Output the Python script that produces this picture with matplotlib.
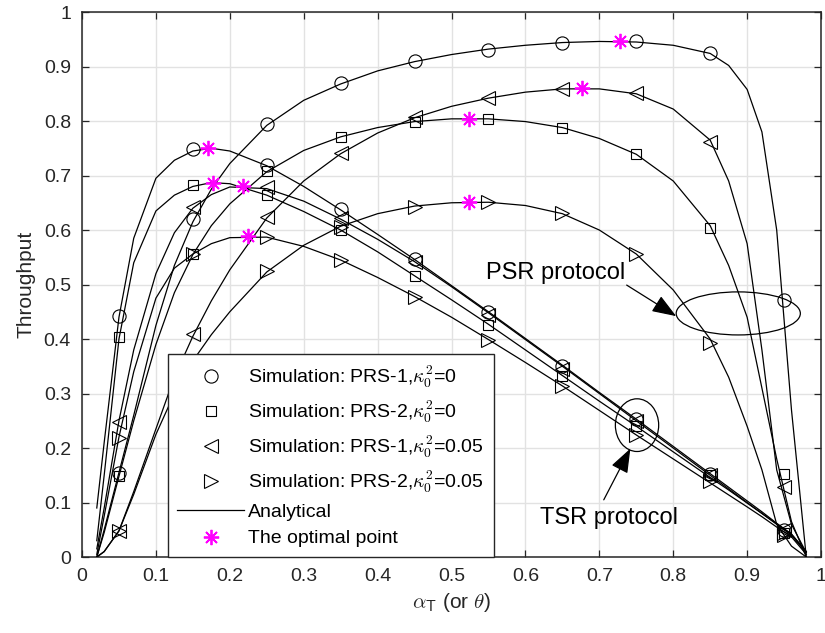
import matplotlib
matplotlib.use('Agg')
import matplotlib.pyplot as plt
from matplotlib.lines import Line2D
from matplotlib.patches import Ellipse

plt.rcParams['font.family'] = ['Liberation Sans', 'DejaVu Sans']
plt.rcParams['mathtext.fontset'] = 'cm'

# ---------------- simulation points (alpha = 0.05 ... 0.95) ----------------
x_sim = [0.05, 0.15, 0.25, 0.35, 0.45, 0.55, 0.65, 0.75, 0.85, 0.95]

# TSR protocol
tsr_prs1_k0 = [0.443, 0.748, 0.719, 0.638, 0.546, 0.450, 0.351, 0.253, 0.152, 0.050]
tsr_prs2_k0 = [0.404, 0.682, 0.664, 0.600, 0.516, 0.426, 0.332, 0.240, 0.150, 0.045]
tsr_prs1_k5 = [0.248, 0.643, 0.679, 0.622, 0.542, 0.445, 0.345, 0.250, 0.150, 0.050]
tsr_prs2_k5 = [0.219, 0.556, 0.587, 0.545, 0.478, 0.399, 0.314, 0.224, 0.140, 0.040]

# PSR protocol
psr_prs1_k0 = [0.155, 0.620, 0.794, 0.869, 0.910, 0.931, 0.944, 0.946, 0.925, 0.472]
psr_prs2_k0 = [0.148, 0.556, 0.709, 0.771, 0.799, 0.804, 0.788, 0.739, 0.604, 0.153]
psr_prs1_k5 = [0.048, 0.409, 0.624, 0.741, 0.807, 0.843, 0.858, 0.852, 0.762, 0.129]
psr_prs2_k5 = [0.048, 0.355, 0.525, 0.605, 0.643, 0.652, 0.631, 0.556, 0.392, 0.044]

# ---------------- analytical curves ----------------
x_ana = [0.02, 0.03, 0.05, 0.07, 0.10, 0.125, 0.15, 0.175, 0.20, 0.25, 0.30, 0.35,
         0.40, 0.45, 0.50, 0.55, 0.60, 0.65, 0.70, 0.75, 0.80, 0.85, 0.875, 0.90,
         0.92, 0.94, 0.96, 0.98]

ana_tsr_prs1_k0 = [0.090, 0.210, 0.440, 0.585, 0.695, 0.728, 0.745, 0.750, 0.745, 0.718,
                   0.680, 0.637, 0.592, 0.546, 0.498, 0.450, 0.401, 0.352, 0.302, 0.253,
                   0.203, 0.153, 0.128, 0.103, 0.083, 0.062, 0.042, 0.010]
ana_tsr_prs2_k0 = [0.030, 0.150, 0.400, 0.540, 0.635, 0.664, 0.680, 0.687, 0.685, 0.664,
                   0.634, 0.600, 0.560, 0.516, 0.472, 0.427, 0.380, 0.333, 0.286, 0.240,
                   0.193, 0.146, 0.123, 0.099, 0.080, 0.061, 0.042, 0.010]
ana_tsr_prs1_k5 = [0.015, 0.090, 0.250, 0.380, 0.520, 0.595, 0.640, 0.665, 0.679, 0.676,
                   0.653, 0.620, 0.583, 0.542, 0.496, 0.448, 0.399, 0.350, 0.300, 0.250,
                   0.200, 0.150, 0.125, 0.100, 0.080, 0.060, 0.040, 0.008]
ana_tsr_prs2_k5 = [0.005, 0.075, 0.220, 0.340, 0.475, 0.530, 0.556, 0.575, 0.586, 0.587,
                   0.570, 0.545, 0.513, 0.478, 0.440, 0.399, 0.357, 0.314, 0.269, 0.224,
                   0.180, 0.136, 0.114, 0.092, 0.074, 0.055, 0.037, 0.005]

ana_psr_prs1_k0 = [0.000, 0.050, 0.155, 0.260, 0.425, 0.535, 0.615, 0.675, 0.722, 0.792,
                   0.838, 0.868, 0.892, 0.909, 0.922, 0.932, 0.939, 0.944, 0.946, 0.945,
                   0.939, 0.924, 0.902, 0.858, 0.780, 0.600, 0.270, 0.000]
ana_psr_prs2_k0 = [0.000, 0.045, 0.148, 0.250, 0.390, 0.485, 0.555, 0.608, 0.648, 0.707,
                   0.746, 0.771, 0.788, 0.799, 0.804, 0.804, 0.799, 0.788, 0.768, 0.739,
                   0.690, 0.608, 0.535, 0.440, 0.310, 0.180, 0.065, 0.000]
ana_psr_prs1_k5 = [0.000, 0.010, 0.048, 0.120, 0.235, 0.330, 0.405, 0.470, 0.527, 0.622,
                   0.690, 0.740, 0.778, 0.806, 0.827, 0.842, 0.853, 0.859, 0.859, 0.850,
                   0.822, 0.765, 0.690, 0.575, 0.380, 0.160, 0.060, 0.008]
ana_psr_prs2_k5 = [0.000, 0.010, 0.048, 0.115, 0.225, 0.300, 0.360, 0.408, 0.450, 0.523,
                   0.572, 0.607, 0.630, 0.644, 0.650, 0.651, 0.645, 0.630, 0.600, 0.556,
                   0.490, 0.400, 0.330, 0.240, 0.160, 0.060, 0.020, 0.000]

# optimal operating points
opt_x = [0.170, 0.177, 0.218, 0.224, 0.728, 0.524, 0.677, 0.523]
opt_y = [0.750, 0.687, 0.681, 0.589, 0.946, 0.804, 0.860, 0.651]

labels = [r'Simulation: PRS-1,$\kappa_0^2$=0',
          r'Simulation: PRS-2,$\kappa_0^2$=0',
          r'Simulation: PRS-1,$\kappa_0^2$=0.05',
          r'Simulation: PRS-2,$\kappa_0^2$=0.05']

markers = ['o', 's', '<', '>']
msizes = [9.5, 7.5, 9.5, 9.5]
tsr_sim = [tsr_prs1_k0, tsr_prs2_k0, tsr_prs1_k5, tsr_prs2_k5]
psr_sim = [psr_prs1_k0, psr_prs2_k0, psr_prs1_k5, psr_prs2_k5]
ana_all = [ana_tsr_prs1_k0, ana_tsr_prs2_k0, ana_tsr_prs1_k5, ana_tsr_prs2_k5,
           ana_psr_prs1_k0, ana_psr_prs2_k0, ana_psr_prs1_k5, ana_psr_prs2_k5]

axcol = '#262626'
star = (8, 2, 0)

fig = plt.figure(figsize=(8.25, 6.33), dpi=100)
ax = fig.add_axes([0.0994, 0.120, 0.8958, 0.861])

for ya in ana_all:
    ax.plot(x_ana, ya, color='k', lw=0.9, zorder=3)

for m, ms, yt, yp in zip(markers, msizes, tsr_sim, psr_sim):
    ax.plot(x_sim, yt, ls='none', marker=m, ms=ms, mfc='none', mec='k', mew=0.8, zorder=4)
    ax.plot(x_sim, yp, ls='none', marker=m, ms=ms, mfc='none', mec='k', mew=0.8, zorder=4)

ax.plot(opt_x, opt_y, ls='none', marker=star, ms=11, mec='#ff00ff', mew=1.3, zorder=5)

# protocol annotations
arrow = dict(arrowstyle='-|>,head_length=0.75,head_width=0.28', color='k',
             lw=0.9, shrinkA=0, shrinkB=0, mutation_scale=20)

ax.add_patch(Ellipse((0.888, 0.447), 0.168, 0.079, fill=False, ec='k', lw=0.9, zorder=5))
ax.text(0.547, 0.521, 'PSR protocol', fontsize=17, ha='left', va='center', zorder=6)
ax.annotate('', xy=(0.804, 0.442), xytext=(0.737, 0.499), arrowprops=arrow, zorder=6)

ax.add_patch(Ellipse((0.751, 0.242), 0.0586, 0.0967, fill=False, ec='k', lw=0.9, zorder=5))
ax.text(0.620, 0.072, 'TSR protocol', fontsize=17, ha='left', va='center', zorder=6)
ax.annotate('', xy=(0.742, 0.199), xytext=(0.706, 0.105), arrowprops=arrow, zorder=6)

# axes styling
ticks = [i / 10 for i in range(11)]
ticklabels = ['0', '0.1', '0.2', '0.3', '0.4', '0.5', '0.6', '0.7', '0.8', '0.9', '1']
ax.set_xlim(0, 1)
ax.set_ylim(0, 1)
ax.set_xticks(ticks)
ax.set_yticks(ticks)
ax.set_xticklabels(ticklabels)
ax.set_yticklabels(ticklabels)
ax.grid(True, color='#e2e2e2', lw=1.0)
ax.set_axisbelow(True)
ax.tick_params(direction='in', length=5, width=0.9, colors=axcol, labelsize=14,
               top=True, right=True, pad=8)
for sp in ax.spines.values():
    sp.set_color(axcol)
    sp.set_linewidth(1.1)

ax.set_xlabel(r'$\alpha_\mathsf{T}$ (or $\theta$)', fontsize=15, color=axcol, labelpad=4)
ax.set_ylabel('Throughput', fontsize=15, color=axcol, labelpad=6)

handles = [Line2D([], [], ls='none', marker=m, ms=ms, mfc='none', mec='k', mew=0.8)
           for m, ms in zip(markers, msizes)]
handles.append(Line2D([], [], color='k', lw=0.9))
handles.append(Line2D([], [], ls='none', marker=star, ms=11, mec='#ff00ff', mew=1.3))
leg = ax.legend(handles, labels + ['Analytical', 'The optimal point'],
                loc='lower left', bbox_to_anchor=(0.116, 0.0), borderaxespad=0,
                fontsize=14, frameon=True, fancybox=False, framealpha=1,
                edgecolor=axcol, handlelength=3.4, handletextpad=0.25,
                labelspacing=0.45, borderpad=0.5)
leg.get_frame().set_linewidth(1.0)
leg.set_zorder(10)

fig.savefig('out.png', dpi=100)
